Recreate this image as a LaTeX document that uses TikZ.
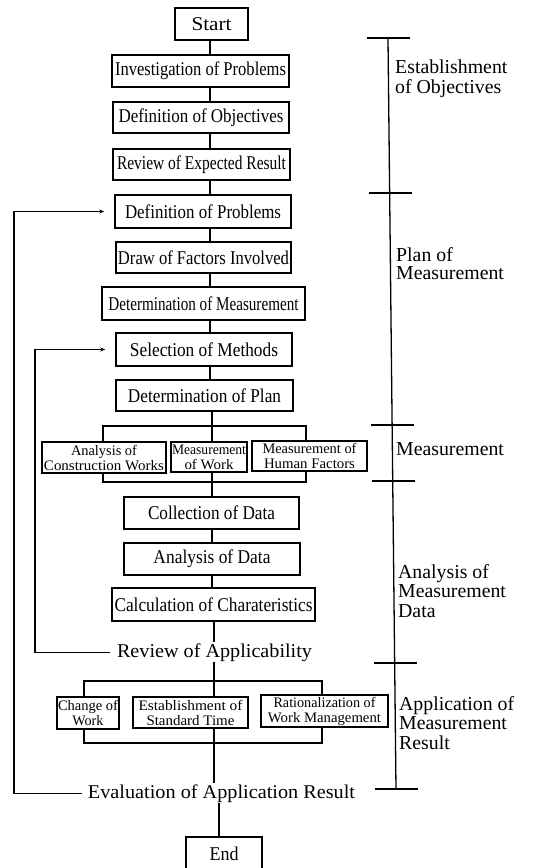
\documentclass[tikz,border=0pt]{standalone}
\usepackage{fontspec}
\setmainfont{Liberation Serif}
\usepackage{graphicx}
\usetikzlibrary{arrows.meta}
\newcommand\fw[2]{\resizebox{#1pt}{\height}{#2}}
\newcommand\bigf{\fontsize{19.5}{21}\selectfont}
\newcommand\smallf{\fontsize{14.5}{15}\selectfont}
\newcommand\labf{\fontsize{19.8}{20}\selectfont}
\begin{document}
\begin{tikzpicture}[x=1pt,y=-1pt,
 box/.style={draw,line width=1.5pt,inner sep=0pt,font=\bigf},
 sbox/.style={draw,line width=1.5pt,inner sep=0pt,font=\smallf,align=center},
 conn/.style={line width=1.3pt},
 arr/.style={line width=1.3pt,-{Stealth[length=5pt,width=4pt]}},
 lab/.style={anchor=base west,inner sep=0pt,font=\labf},
 plain/.style={inner sep=1pt,font=\bigf}]
\useasboundingbox (0,0) rectangle (533,868);
\clip (0,0) rectangle (533,868);
% main column
\node[box,minimum width=73pt,minimum height=32pt] (start) at (211.5,24) {\fw{40}{Start}};
\node[box,minimum width=177pt,minimum height=32pt] (inv) at (200.5,71) {\fw{171}{Investigation of Problems}};
\node[box,minimum width=176pt,minimum height=31pt] (dobj) at (201,117.5) {\fw{165}{Definition of Objectives}};
\node[box,minimum width=177pt,minimum height=31pt] (rev) at (201.5,164.5) {\fw{169}{Review of Expected Result}};
\node[box,minimum width=176pt,minimum height=33pt] (dprob) at (203,211.5) {\fw{156}{Definition of Problems}};
\node[box,minimum width=175pt,minimum height=31pt] (drawf) at (203.5,257.5) {\fw{171}{Draw of Factors Involved}};
\node[box,minimum width=203pt,minimum height=33pt] (dmeas) at (203.5,303.5) {\fw{190}{Determination of Measurement}};
\node[box,minimum width=176pt,minimum height=33pt] (sel) at (204,349.5) {\fw{148}{Selection of Methods}};
\node[box,minimum width=177pt,minimum height=31pt] (plan) at (204.5,395.5) {\fw{153}{Determination of Plan}};
% branch 1
\node[sbox,minimum width=124pt,minimum height=31pt] (acw) at (104,457.5) {\fw{66}{Analysis of}\\\fw{120}{Construction Works}};
\node[sbox,minimum width=76pt,minimum height=30pt] (mw) at (209,457) {\fw{74}{Measurement}\\\fw{49}{of Work}};
\node[sbox,minimum width=115pt,minimum height=30pt] (mhf) at (309.5,456) {\fw{94}{Measurement of}\\\fw{91}{Human Factors}};
\node[box,minimum width=175pt,minimum height=32pt] (coll) at (211.5,513) {\fw{127}{Collection of Data}};
\node[box,minimum width=176pt,minimum height=32pt] (aod) at (212,559) {\fw{117}{Analysis of Data}};
\node[box,minimum width=203pt,minimum height=33pt] (calc) at (213.5,604.5) {\fw{198}{Calculation of Charateristics}};
\node[plain,anchor=base] (revapp) at (214.5,657) {\fw{195}{Review of Applicability}};
% branch 2
\node[sbox,minimum width=62pt,minimum height=32pt] (cow) at (88,713) {\fw{60}{Change of}\\\fw{31}{Work}};
\node[sbox,minimum width=115pt,minimum height=31pt] (est) at (190.5,712.5) {\fw{104}{Establishment of}\\\fw{88}{Standard Time}};
\node[sbox,minimum width=127pt,minimum height=32pt] (rwm) at (324.5,711) {\fw{102}{Rationalization of}\\\fw{113}{Work Management}};
\node[plain,anchor=base] (eval) at (221.5,798) {\fw{267}{Evaluation of Application Result}};
\node[box,minimum width=76pt,minimum height=34pt] (endn) at (224,854) {\fw{29}{End}};
% spine coordinates
\coordinate (sa) at (210,0);
\coordinate (sb) at (212,0);
\coordinate (sc) at (214,0);
\coordinate (sd) at (219,0);
\foreach \a/\b in {start/inv,inv/dobj,dobj/rev,rev/dprob,dprob/drawf,drawf/dmeas,dmeas/sel,sel/plan}
  \draw[conn] (\a.south -| sa) -- (\b.north -| sa);
\draw[conn] (plan.south -| sb) -- (mw.north -| sb);
\coordinate (b1tl) at (103,426); \coordinate (b1tr) at (306,426);
\coordinate (b1bl) at (103,482); \coordinate (b1br) at (306,482);
\draw[conn] (acw.north -| b1tl) -- (b1tl) -- (b1tr) -- (mhf.north -| b1tr);
\draw[conn] (acw.south -| b1bl) -- (b1bl) -- (b1br) -- (mhf.south -| b1br);
\foreach \a/\b in {mw/coll,coll/aod,aod/calc}
  \draw[conn] (\a.south -| sb) -- (\b.north -| sb);
\draw[conn] (calc.south -| sc) -- (revapp.north -| sc);
\draw[conn] (revapp.south -| sc) -- (est.north -| sc);
\coordinate (b2tl) at (84,681); \coordinate (b2tr) at (322,681);
\coordinate (b2bl) at (84,743); \coordinate (b2br) at (322,743);
\draw[conn] (cow.north -| b2tl) -- (b2tl) -- (b2tr) -- (rwm.north -| b2tr);
\draw[conn] (cow.south -| b2bl) -- (b2bl) -- (b2br) -- (rwm.south -| b2br);
\draw[conn] (est.south -| sc) -- (eval.north -| sc);
\draw[conn] (eval.south -| sd) -- (endn.north -| sd);
% feedback loops
\coordinate (olx) at (14,0);
\coordinate (ilx) at (35,0);
\draw[arr] ([xshift=-5pt]eval.west) -- (eval.west -| olx) -- (dprob.west -| olx) -- ([xshift=-10pt]dprob.west);
\draw[arr] ([xshift=-6pt]revapp.west) -- (revapp.west -| ilx) -- (sel.west -| ilx) -- ([xshift=-10pt]sel.west);
% phase bracket
\coordinate (t1) at (388,38);
\coordinate (t2) at (389.7,193);
\coordinate (t3) at (392.1,425);
\coordinate (t4) at (392.7,481);
\coordinate (t5) at (394.7,663);
\coordinate (t6) at (396,789);
\draw[conn] (t1) -- (t6);
\foreach \t in {t1,t2,t3,t4,t5,t6}
  \draw[conn] ([xshift=-21pt]\t) -- ([xshift=22pt]\t);
\node[lab] (l1a) at (395,73.5) {Establishment};
\node[lab] (l1b) at (395,93.5) {of Objectives};
\node[lab] (l2a) at (396,261.5) {Plan of};
\node[lab] (l2b) at (396,279.5) {Measurement};
\node[lab] (l3) at (396,455.5) {Measurement};
\node[lab] (l4a) at (398,578.5) {Analysis of};
\node[lab] (l4b) at (398,597) {Measurement};
\node[lab] (l4c) at (398,617) {Data};
\node[lab] (l5a) at (399,710.5) {Application of};
\node[lab] (l5b) at (399,729.5) {Measurement};
\node[lab] (l5c) at (399,749.5) {Result};
\end{tikzpicture}
\end{document}
